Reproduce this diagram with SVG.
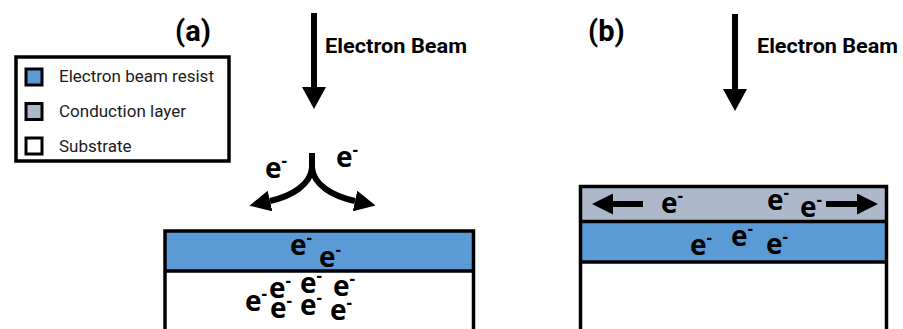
<svg xmlns="http://www.w3.org/2000/svg" width="903" height="329" viewBox="0 0 903 329">
  <style>
    .edge { fill: none; stroke: #000; stroke-width: 3.5; }
    .resist { fill: #5B9BD5; }
    .cond { fill: #ADB9CA; }
    .sub { fill: #FFFFFF; }
    .key { stroke: #000; stroke-width: 3; }
    .legend-text { font-family: Roboto, "Liberation Sans", sans-serif; font-size: 17px; fill: #1a1a1a; }
    .title { font-family: Roboto, "Liberation Sans", sans-serif; font-weight: 700; font-size: 29px; fill: #000; }
    .beam { font-family: Roboto, "Liberation Sans", sans-serif; font-weight: 700; font-size: 21px; fill: #000; }
    .el { font-family: "Open Sans", "Liberation Sans", sans-serif; font-weight: 700; font-size: 28px; fill: #000; }
    .sup { font-size: 17px; }
    .shaft { fill: none; stroke: #000; stroke-width: 6; }
    .bend { fill: none; stroke: #000; stroke-width: 6; }
  </style>
  <defs>
    <marker id="headL" markerUnits="userSpaceOnUse" markerWidth="22" markerHeight="24" refX="0" refY="12" orient="auto">
      <path d="M0,0 L22,12 L0,24 z" fill="#000"/>
    </marker>
    <marker id="headS" markerUnits="userSpaceOnUse" markerWidth="21" markerHeight="21" refX="0" refY="10.5" orient="auto">
      <path d="M0,0 L21,10.5 L0,21 z" fill="#000"/>
    </marker>
  </defs>

  <!-- legend -->
  <g id="legend">
    <rect x="16" y="57" width="213" height="104" fill="#fff" stroke="#000" stroke-width="3.5"/>
    <rect class="resist key" x="26" y="69" width="16" height="16"/>
    <rect class="cond key" x="26" y="103.5" width="16" height="16"/>
    <rect class="sub key" x="26" y="138" width="16" height="16"/>
    <text class="legend-text" x="59" y="82">Electron beam resist</text>
    <text class="legend-text" x="59" y="117">Conduction layer</text>
    <text class="legend-text" x="59" y="152">Substrate</text>
  </g>

  <!-- panel (a) -->
  <g id="title-a"><text class="title" x="175" y="41">(a)</text></g>
  <g id="beam-label-a"><text class="beam" x="325" y="53" textLength="142" lengthAdjust="spacingAndGlyphs">Electron Beam</text></g>

  <g id="stack-a">
    <rect class="resist" x="165" y="231" width="308.5" height="40"/>
    <rect class="sub" x="165" y="271" width="308.5" height="70"/>
    <rect class="edge" x="165" y="231" width="308.5" height="110"/>
    <line class="edge" x1="165" y1="271" x2="473.5" y2="271"/>
  </g>

  <g id="electrons-a">
    <text class="el" x="290" y="255">e<tspan class="sup" dy="-11">-</tspan></text>
    <text class="el" x="319" y="267">e<tspan class="sup" dy="-11">-</tspan></text>
    <text class="el" x="245" y="311">e<tspan class="sup" dy="-11">-</tspan></text>
    <text class="el" x="269" y="298">e<tspan class="sup" dy="-11">-</tspan></text>
    <text class="el" x="300" y="293">e<tspan class="sup" dy="-11">-</tspan></text>
    <text class="el" x="333" y="296">e<tspan class="sup" dy="-11">-</tspan></text>
    <text class="el" x="270" y="318">e<tspan class="sup" dy="-11">-</tspan></text>
    <text class="el" x="300" y="315">e<tspan class="sup" dy="-11">-</tspan></text>
    <text class="el" x="330" y="320">e<tspan class="sup" dy="-11">-</tspan></text>
    <text class="el" x="265" y="178">e<tspan class="sup" dy="-11">-</tspan></text>
    <text class="el" x="336" y="167">e<tspan class="sup" dy="-11">-</tspan></text>
  </g>

  <!-- panel (b) -->
  <g id="title-b"><text class="title" x="588" y="41">(b)</text></g>
  <g id="beam-label-b"><text class="beam" x="757" y="53" textLength="141" lengthAdjust="spacingAndGlyphs">Electron Beam</text></g>

  <g id="stack-b">
    <rect class="cond" x="580.5" y="186.5" width="306" height="35"/>
    <rect class="resist" x="580.5" y="221.5" width="306" height="40.5"/>
    <rect class="sub" x="580.5" y="262" width="306" height="80"/>
    <rect class="edge" x="580.5" y="186.5" width="306" height="155"/>
    <line class="edge" x1="580.5" y1="221.5" x2="886.5" y2="221.5"/>
    <line class="edge" x1="580.5" y1="262" x2="886.5" y2="262"/>
  </g>

  <g id="electrons-b">
    <text class="el" x="661" y="213">e<tspan class="sup" dy="-11">-</tspan></text>
    <text class="el" x="767" y="210">e<tspan class="sup" dy="-11">-</tspan></text>
    <text class="el" x="800" y="217">e<tspan class="sup" dy="-11">-</tspan></text>
    <text class="el" x="690" y="255">e<tspan class="sup" dy="-11">-</tspan></text>
    <text class="el" x="731" y="246">e<tspan class="sup" dy="-11">-</tspan></text>
    <text class="el" x="766" y="254">e<tspan class="sup" dy="-11">-</tspan></text>
  </g>

  <!-- arrows -->
  <g id="connectors">
    <line class="shaft" x1="314" y1="13" x2="314" y2="87" marker-end="url(#headL)"/>
    <line class="shaft" x1="735" y1="14" x2="735" y2="89" marker-end="url(#headL)"/>
    <line class="bend" x1="312" y1="153" x2="312" y2="172"/>
    <path class="bend" d="M312,168 C310,185 292,196 270,201" marker-end="url(#headS)"/>
    <path class="bend" d="M312,168 C314,185 332,196 355,201" marker-end="url(#headS)"/>
    <line class="shaft" x1="643" y1="204" x2="613" y2="204" marker-end="url(#headS)"/>
    <line class="shaft" x1="826" y1="204" x2="857" y2="204" marker-end="url(#headS)"/>
  </g>
</svg>
